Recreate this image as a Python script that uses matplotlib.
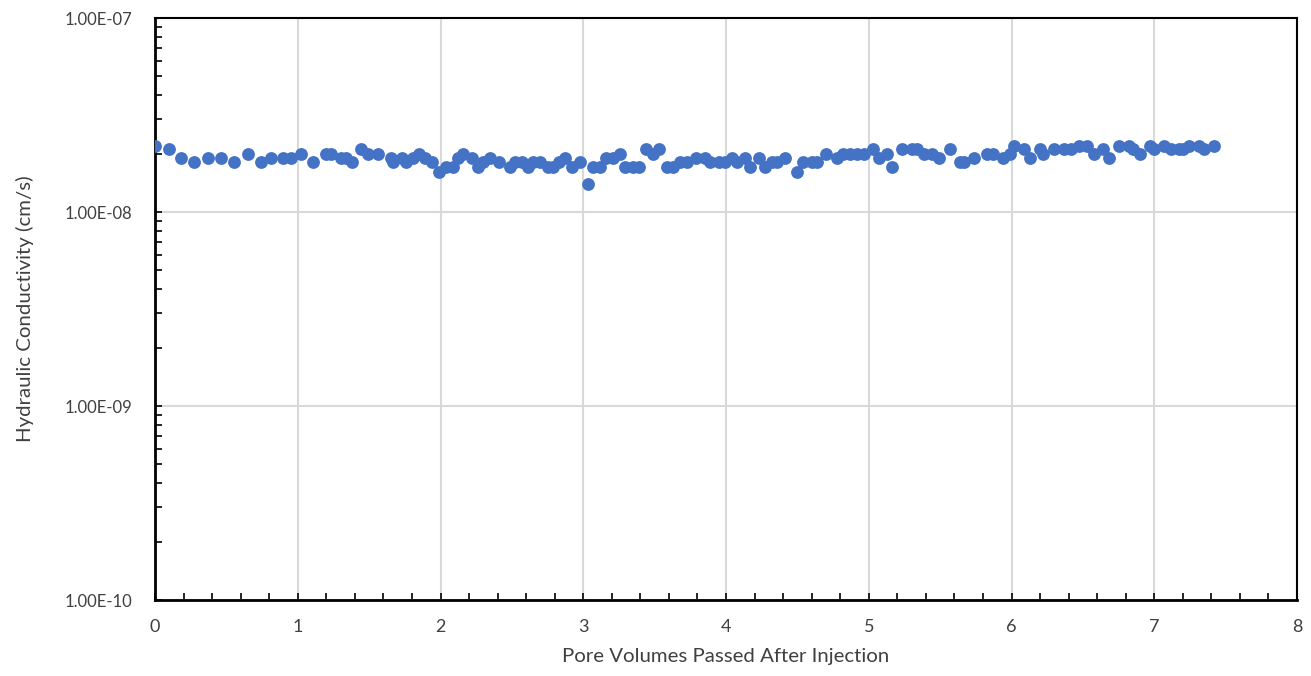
import matplotlib
matplotlib.use("Agg")
import matplotlib.pyplot as plt
from matplotlib.ticker import FixedLocator, FuncFormatter, LogLocator, MultipleLocator, NullFormatter

plt.rcParams['font.family'] = ['Lato', 'DejaVu Sans']

pore_volumes = [
    0.00, 0.10, 0.18, 0.27, 0.37, 0.46, 0.55, 0.65, 0.74, 0.81, 0.90, 0.95, 1.02, 1.11,
    1.20, 1.23, 1.30, 1.34, 1.38, 1.44, 1.49, 1.56, 1.65, 1.67, 1.73, 1.76, 1.81, 1.85,
    1.89, 1.94, 1.99, 2.04, 2.09, 2.12, 2.16, 2.22, 2.26, 2.30, 2.35, 2.41, 2.49, 2.52,
    2.57, 2.61, 2.65, 2.70, 2.75, 2.79, 2.83, 2.87, 2.92, 2.98, 3.03, 3.07, 3.12, 3.16,
    3.21, 3.26, 3.29, 3.35, 3.39, 3.44, 3.49, 3.53, 3.59, 3.63, 3.68, 3.73, 3.79, 3.85,
    3.89, 3.95, 3.99, 4.04, 4.08, 4.13, 4.17, 4.23, 4.27, 4.32, 4.36, 4.41, 4.50, 4.54,
    4.60, 4.64, 4.70, 4.78, 4.82, 4.87, 4.92, 4.97, 5.03, 5.07, 5.13, 5.16, 5.23, 5.30,
    5.34, 5.39, 5.44, 5.49, 5.57, 5.64, 5.67, 5.74, 5.83, 5.87, 5.94, 5.99, 6.02, 6.09,
    6.13, 6.20, 6.22, 6.30, 6.37, 6.42, 6.47, 6.53, 6.58, 6.64, 6.68, 6.75, 6.82, 6.85,
    6.90, 6.97, 7.00, 7.07, 7.12, 7.17, 7.20, 7.24, 7.31, 7.35, 7.42,
]
conductivity_e8 = [
    2.2, 2.1, 1.9, 1.8, 1.9, 1.9, 1.8, 2.0, 1.8, 1.9, 1.9, 1.9, 2.0, 1.8,
    2.0, 2.0, 1.9, 1.9, 1.8, 2.1, 2.0, 2.0, 1.9, 1.8, 1.9, 1.8, 1.9, 2.0,
    1.9, 1.8, 1.6, 1.7, 1.7, 1.9, 2.0, 1.9, 1.7, 1.8, 1.9, 1.8, 1.7, 1.8,
    1.8, 1.7, 1.8, 1.8, 1.7, 1.7, 1.8, 1.9, 1.7, 1.8, 1.4, 1.7, 1.7, 1.9,
    1.9, 2.0, 1.7, 1.7, 1.7, 2.1, 2.0, 2.1, 1.7, 1.7, 1.8, 1.8, 1.9, 1.9,
    1.8, 1.8, 1.8, 1.9, 1.8, 1.9, 1.7, 1.9, 1.7, 1.8, 1.8, 1.9, 1.6, 1.8,
    1.8, 1.8, 2.0, 1.9, 2.0, 2.0, 2.0, 2.0, 2.1, 1.9, 2.0, 1.7, 2.1, 2.1,
    2.1, 2.0, 2.0, 1.9, 2.1, 1.8, 1.8, 1.9, 2.0, 2.0, 1.9, 2.0, 2.2, 2.1,
    1.9, 2.1, 2.0, 2.1, 2.1, 2.1, 2.2, 2.2, 2.0, 2.1, 1.9, 2.2, 2.2, 2.1,
    2.0, 2.2, 2.1, 2.2, 2.1, 2.1, 2.1, 2.2, 2.2, 2.1, 2.2,
]
conductivity = [v * 1e-8 for v in conductivity_e8]

x_label = "Pore Volumes Passed After Injection"
y_label = "Hydraulic Conductivity (cm/s)"

fig = plt.figure(figsize=(13.11, 6.76), dpi=100)
ax = fig.add_axes([155/1311, 1-600/676, (1297-155)/1311, (600-18)/676])

ax.scatter(pore_volumes, conductivity, s=85, color='#4472C4', zorder=3, linewidths=0)

ax.set_yscale('log')
ax.set_xlim(0, 8)
ax.set_ylim(1e-10, 1e-7)

ax.xaxis.set_major_locator(MultipleLocator(1))
ax.xaxis.set_minor_locator(MultipleLocator(0.2))
ax.yaxis.set_major_locator(FixedLocator([1e-10, 1e-9, 1e-8, 1e-7]))
ax.yaxis.set_minor_locator(LogLocator(base=10, subs=range(2, 10)))
ax.yaxis.set_minor_formatter(NullFormatter())

def sci(v, pos):
    s = f"{v:.2E}"
    mant, exp = s.split("E")
    sign = exp[0]
    digits = exp[1:].lstrip('0').zfill(2)
    return f"{mant}E{sign}{digits}"

ax.yaxis.set_major_formatter(FuncFormatter(sci))
ax.xaxis.set_major_formatter(FuncFormatter(lambda v, p: f"{int(round(v))}"))

ax.grid(True, which='major', color='#D9D9D9', linewidth=1.5, zorder=0)
ax.set_axisbelow(True)

for sp in ax.spines.values():
    sp.set_color('black')
    sp.set_linewidth(1.5)
ax.spines['left'].set_linewidth(2)
ax.spines['bottom'].set_linewidth(2)

ax.tick_params(axis='both', which='both', direction='in', color='black', width=1.2)
ax.tick_params(axis='both', which='major', length=5, labelsize=13, labelcolor='#404040')
ax.tick_params(axis='y', which='major', labelsize=12)
ax.tick_params(axis='both', which='minor', length=5)
ax.tick_params(axis='x', which='major', pad=14)
ax.tick_params(axis='y', which='major', pad=16)

ax.set_xlabel(x_label, fontsize=14.7, color='#404040', labelpad=9)
ax.set_ylabel(y_label, fontsize=14.7, color='#404040', labelpad=22)

fig.savefig("out.png", dpi=100)
